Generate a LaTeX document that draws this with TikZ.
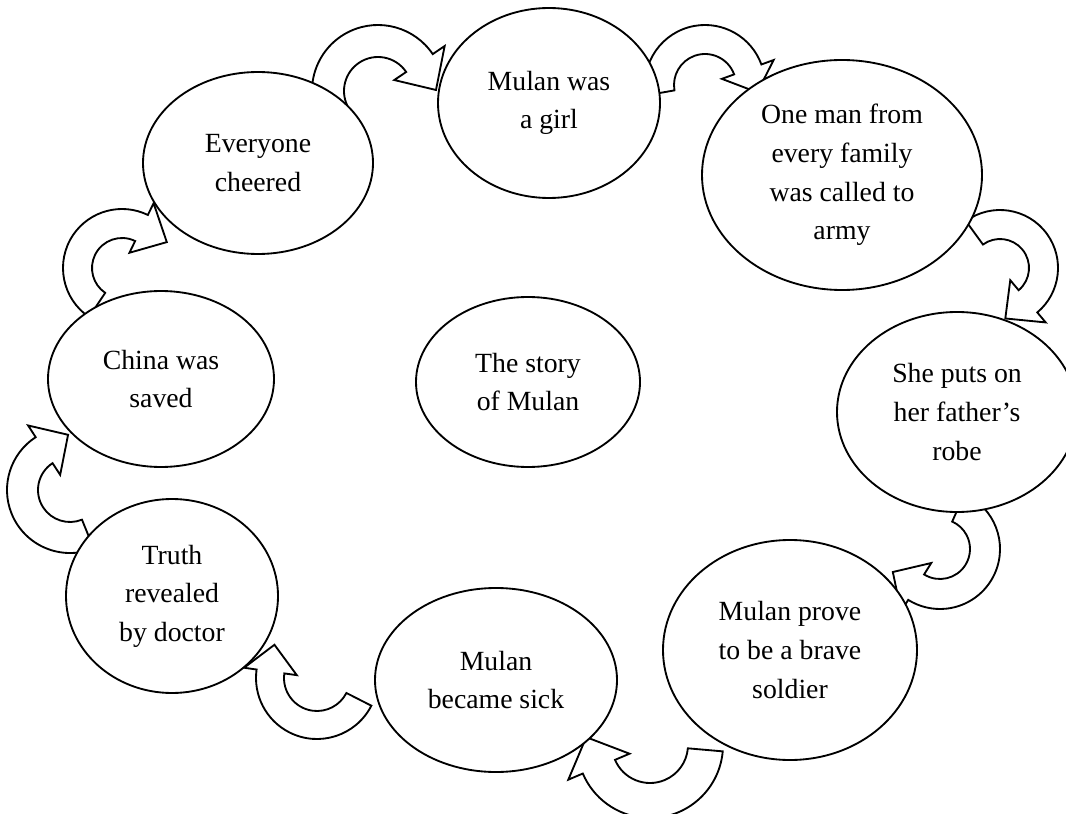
\documentclass[tikz,border=0pt]{standalone}
\usepackage{fontspec}
\setmainfont{Liberation Serif}
\usetikzlibrary{shapes.geometric}

\tikzset{
    bubble/.style 2 args={ellipse, draw, line width=0.8pt, fill=white, inner sep=0pt,
        align=center, font=\fontsize{12}{16.7}\selectfont,
        minimum width=#1*0.0304cm, minimum height=#2*0.0304cm},
    turnarrow/.style={draw, line width=0.8pt, fill=white, line join=miter},
}

\begin{document}
\begin{tikzpicture}[x=0.0152cm, y=0.0152cm]

    \useasboundingbox (0,0) rectangle (1066,-814);

    % curved arrows, drawn first so the bubbles sit on their tails
    % centre x / centre y / outer radius / inner radius / tail angle / head angle / tip angle
    \foreach \cx/\cy/\ro/\ri/\sa/\ha/\ta in {378/91/66/34/205/34/1,
                                              705/85/60/31/190/20/-8,
                                              1000/268/58/29/126/-50/-84,
                                              940/549/60/30/66/-122/-154,
                                              650/745/73/38/-5/-157/-187,
                                              317/678/61/33/-27/-188/-218,
                                              70/490/63/32/-68/-237/-268,
                                              122/268/59/30/-124/-296/-330} {
        \pgfmathsetmacro\ex{0.45*(\ro-\ri)}
        \pgfmathsetmacro\tr{\ro-0.25*(\ro-\ri)}
        \begin{scope}[shift={(\cx,-\cy)}]
            \path[turnarrow] (\sa:\ro) arc[start angle=\sa, end angle=\ha, radius=\ro]
                -- (\ha:{\ro+\ex}) -- (\ta:\tr) -- (\ha:{\ri-\ex}) -- (\ha:\ri)
                arc[start angle=\ha, end angle=\sa, radius=\ri] -- cycle;
        \end{scope}
    }

    % the story, clockwise from the top
    \node[bubble={111}{95}] (girl) at (549,-103) {Mulan was\\a girl};
    \node[bubble={140}{115}] (army) at (842,-175) {One man from\\every family\\was called to\\army};
    \node[bubble={120}{100}] (robe) at (957,-412) {She puts on\\her father’s\\robe};
    \node[bubble={127}{110}] (brave) at (790,-650) {Mulan prove\\to be a brave\\soldier};
    \node[bubble={121}{92}] (sick) at (496,-680) {Mulan\\became sick};
    \node[bubble={106}{97}] (truth) at (172,-596) {Truth\\revealed\\by doctor};
    \node[bubble={113}{88}] (saved) at (161,-379) {China was\\saved};
    \node[bubble={115}{91}] (cheered) at (258,-163) {Everyone\\cheered};

    % title in the middle
    \node[bubble={112}{85}] (story) at (528,-382) {The story\\of Mulan};

\end{tikzpicture}
\end{document}
